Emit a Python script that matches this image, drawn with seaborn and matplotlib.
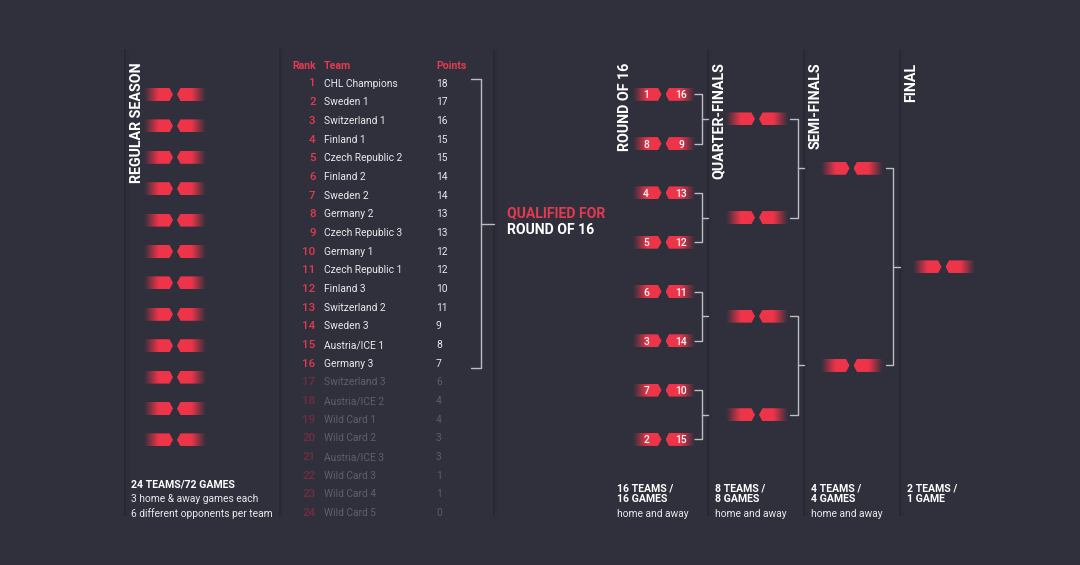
import numpy as np
import pandas as pd
import matplotlib
matplotlib.use('Agg')
import matplotlib.pyplot as plt
from matplotlib.patches import Polygon
import seaborn as sns

# Standings
ranks = list(range(1, 25))
teams = ['CHL Champions', 'Sweden 1', 'Switzerland 1', 'Finland 1', 'Czech Republic 2', 'Finland 2',
         'Sweden 2', 'Germany 2', 'Czech Republic 3', 'Germany 1', 'Czech Republic 1', 'Finland 3',
         'Switzerland 2', 'Sweden 3', 'Austria/ICE 1', 'Germany 3', 'Switzerland 3', 'Austria/ICE 2',
         'Wild Card 1', 'Wild Card 2', 'Austria/ICE 3', 'Wild Card 3', 'Wild Card 4', 'Wild Card 5']
points = [18, 17, 16, 15, 15, 14, 14, 13, 13, 12, 12, 10, 11, 9, 8, 7, 6, 4, 4, 3, 3, 1, 1, 0]
qualified = 16

# Bracket
seeds_left = [1, 8, 4, 5, 6, 3, 7, 2]
seeds_right = [16, 9, 13, 12, 11, 14, 10, 15]
regular_rows = 12

stage_names = ['REGULAR SEASON', 'ROUND OF 16', 'QUARTER-FINALS', 'SEMI-FINALS', 'FINAL']
stage_notes = [['3 home & away games each', '6 different opponents per team'],
               ['home and away'], ['home and away'], ['home and away'], []]
stage_games = [['24 TEAMS/72 GAMES'], ['16 TEAMS /', '16 GAMES'], ['8 TEAMS /', '8 GAMES'],
               ['4 TEAMS /', '4 GAMES'], ['2 TEAMS /', '1 GAME']]

BG = '#30303c'
DARK = '#282832'
RED = '#ee3449'
TEXT_RED = '#e43a50'
WHITE = '#ffffff'
BODY = '#e8e8ec'
GREY = '#5f5f6b'
DIM_RED = '#742c40'
LINE = '#bcbcc4'

sns.set_theme(style='dark', rc={'figure.facecolor': BG, 'axes.facecolor': BG})
plt.rcParams['font.family'] = ['Roboto', 'DejaVu Sans']

fig = plt.figure(figsize=(10.8, 5.65), dpi=100)
ax = fig.add_axes([0, 0, 1, 1])
gradient = np.array(sns.blend_palette([BG, RED, RED], 64))[None, :, :]


def px(size):
    return size * 0.72


def chip(x0, x1, y, side, height=13.0, tip=3.5):
    # side = 'left' has the point on its right, fades out to the left
    top, bot = y - height / 2, y + height / 2
    if side == 'left':
        pts = [(x0, top), (x1 - tip, top), (x1, y), (x1 - tip, bot), (x0, bot)]
        img = gradient
    else:
        pts = [(x1, top), (x0 + tip, top), (x0, y), (x0 + tip, bot), (x1, bot)]
        img = gradient[:, ::-1]
    im = ax.imshow(img, extent=[x0, x1, bot, top], aspect='auto', zorder=3, interpolation='bilinear')
    im.set_clip_path(Polygon(pts, closed=True, transform=ax.transData))


def chip_pair(x, y, left=None, right=None):
    chip(x, x + 29, y, 'left')
    chip(x + 33, x + 62, y, 'right')
    if left is not None:
        ax.text(x + 13.5, y, str(left), color=WHITE, fontsize=px(10.2), weight='medium', ha='center', va='center_baseline', zorder=4)
        ax.text(x + 48.5, y, str(right), color=WHITE, fontsize=px(10.2), weight='medium', ha='center', va='center_baseline', zorder=4)


# vertical positions come from the tree: each round sits midway between its feeders
r16_y = 94.3 + 49.3 * np.arange(8)
qf_y = (r16_y[::2] + r16_y[1::2]) / 2
sf_y = (qf_y[::2] + qf_y[1::2]) / 2
final_y = sf_y.mean(keepdims=True)
season_y = 94.5 + 31.4 * np.arange(regular_rows)
row_y = 83 + 18.67 * np.arange(len(teams))

# separators
for sep_x in [125, 280, 494, 708, 804, 900]:
    ax.axvspan(sep_x - 1, sep_x + 1, ymin=1 - 516 / 565, ymax=1 - 49 / 565, color=DARK, lw=0, zorder=1)
    ax.axvspan(sep_x + 1, sep_x + 4, ymin=1 - 516 / 565, ymax=1 - 49 / 565, color=DARK, alpha=0.2, lw=0, zorder=1)

# brackets
segments = []


def bracket(x0, x1, x2, y_pair):
    y_a, y_b = y_pair
    mid = (y_a + y_b) / 2
    k = len(segments)
    segments.append(pd.DataFrame({'x': [x0, x1, x1, x0], 'y': [y_a, y_a, y_b, y_b], 'seg': k}))
    segments.append(pd.DataFrame({'x': [x1, x2], 'y': [mid, mid], 'seg': k + 1}))


for a, b in zip(r16_y[::2], r16_y[1::2]):
    bracket(694, 701.5, 708, (a, b))
for a, b in zip(qf_y[::2], qf_y[1::2]):
    bracket(790, 797.5, 804, (a, b))
for a, b in zip(sf_y[::2], sf_y[1::2]):
    bracket(886, 893, 900, (a, b))
bracket(471, 481, 494, (row_y[0] - 4, row_y[qualified - 1] + 5))

sns.lineplot(data=pd.concat(segments), x='x', y='y', units='seg', estimator=None, sort=False,
             color=LINE, linewidth=1.0, ax=ax, legend=False, zorder=2)

# chips
for y in season_y:
    chip_pair(144, y)
for y, a, b in zip(r16_y, seeds_left, seeds_right):
    chip_pair(632.5, y, a, b)
for y in qf_y:
    chip_pair(726, y)
for y in sf_y:
    chip_pair(820.5, y)
for y in final_y:
    chip_pair(912.5, y)

# table
ax.text(316, 65, 'Rank', color=TEXT_RED, fontsize=px(10.5), weight='bold', ha='right', va='center_baseline')
ax.text(324, 65, 'Team', color=TEXT_RED, fontsize=px(10.5), weight='bold', ha='left', va='center_baseline')
ax.text(436, 65, 'Points', color=TEXT_RED, fontsize=px(10.5), weight='bold', ha='left', va='center_baseline')
for i, (r, team, p) in enumerate(zip(ranks, teams, points)):
    on = i < qualified
    # the original rank digits are very condensed, no such face here so a small Roboto stands in
    ax.text(315.5, row_y[i] - 0.5, str(r), color=TEXT_RED if on else DIM_RED, fontsize=px(11.5), weight='medium',
            ha='right', va='center_baseline')
    ax.text(324, row_y[i] - 0.3, team, color=BODY if on else GREY, fontsize=px(10.2), ha='left', va='center_baseline')
    ax.text(436, row_y[i] - 0.3, str(p), color=BODY if on else GREY, fontsize=px(10.2), ha='left', va='center_baseline')

ax.text(507, 212, 'QUALIFIED FOR', color=TEXT_RED, fontsize=px(14), weight='bold', va='center_baseline')
ax.text(507, 228, 'ROUND OF 16', color=WHITE, fontsize=px(14), weight='bold', va='center_baseline')

# rotated stage titles and notes underneath
title_x = [137, 625, 719, 815, 911]
note_x = [131, 617, 715, 811, 907]
for name, tx, nx, games, notes in zip(stage_names, title_x, note_x, stage_games, stage_notes):
    ax.text(tx, 62.5, name, color=WHITE, fontsize=px(14.2), weight='bold', rotation=90, ha='center', va='top')
    season = len(notes) == 2
    y = 484 if season else 487
    for line in games:
        ax.text(nx, y, line, color=WHITE, fontsize=px(10.5), weight='bold', va='center_baseline')
        y += 11.5
    y = 498.5 if season else 513
    for line in notes:
        ax.text(nx, y, line, color=BODY, fontsize=px(10.2), va='center_baseline')
        y += 14.5

ax.set_xlim(0, 1080)
ax.set_ylim(565, 0)
ax.set_axis_off()

fig.savefig('out.png', dpi=100, facecolor=BG)
